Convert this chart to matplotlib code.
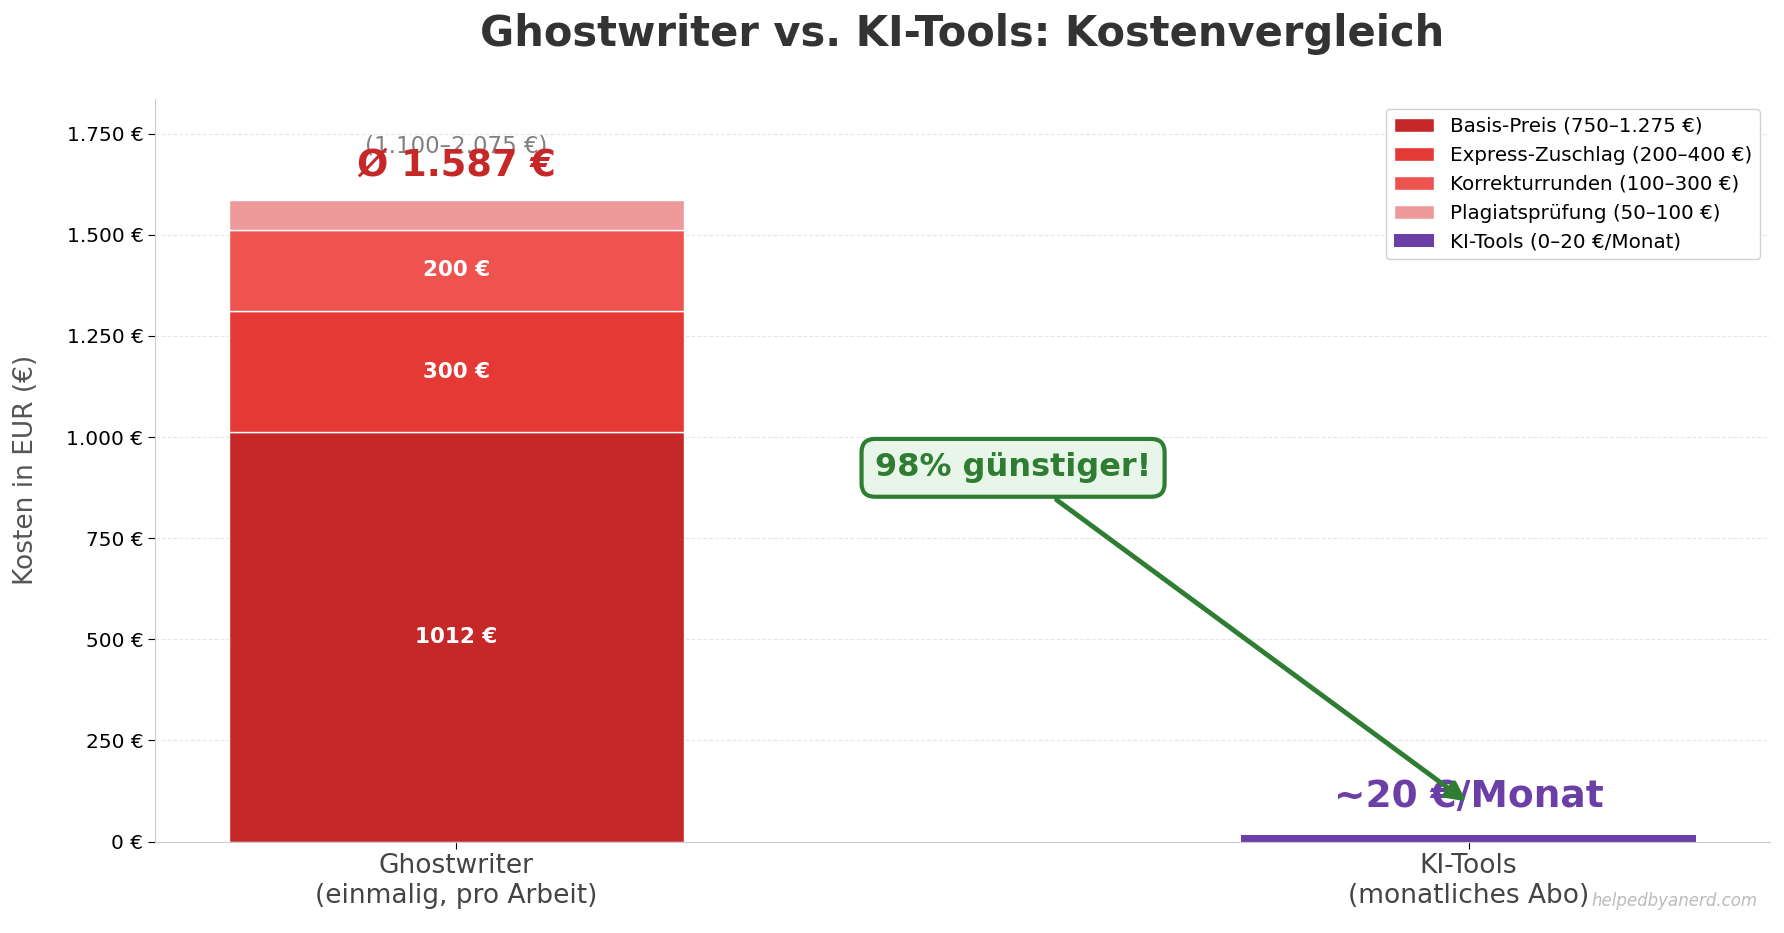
import numpy as np
import matplotlib.pyplot as plt
from matplotlib.ticker import FuncFormatter

# daten
kategorien = ["Ghostwriter\n(einmalig, pro Arbeit)", "KI-Tools\n(monatliches Abo)"]
segmente = ["Basis-Preis (750–1.275 €)", "Express-Zuschlag (200–400 €)",
            "Korrekturrunden (100–300 €)", "Plagiatsprüfung (50–100 €)"]
werte_gw = [1012, 300, 200, 75]
farben_gw = ["#c62828", "#e53935", "#ef5350", "#ef9a9a"]
ki_wert = 15
ki_label = "KI-Tools (0–20 €/Monat)"
ki_farbe = "#6b3fa6"

fig, ax = plt.subplots(figsize=(17.84, 9.33), dpi=100)
fig.subplots_adjust(left=0.087, right=0.992, top=0.894, bottom=0.098)

x = np.arange(len(kategorien))
breite = 0.45

unten = 0
for wert, farbe, name in zip(werte_gw, farben_gw, segmente):
    ax.bar(x[0], wert, breite, bottom=unten, color=farbe, edgecolor="white", linewidth=1, label=name)
    if wert >= 150:  # nur grosse segmente beschriften
        ax.text(x[0], unten + wert / 2, f"{wert} €", ha="center", va="center",
                color="white", fontsize=15.5, fontweight="bold")
    unten += wert

ax.bar(x[1], ki_wert, breite, color=ki_farbe, label=ki_label)

gesamt = sum(werte_gw)
ax.text(x[0], gesamt + 105, "(1.100–2.075 €)", ha="center", va="bottom", fontsize=16.5, color="gray")
ax.text(x[0], gesamt + 40, "Ø 1.587 €", ha="center", va="bottom", fontsize=26.5,
        fontweight="bold", color="#c62828")
ax.text(x[1], ki_wert + 50, "~20 €/Monat", ha="center", va="bottom", fontsize=27,
        fontweight="bold", color=ki_farbe)

ax.annotate("98% günstiger!", xy=(x[1], 95), xytext=(0.55, 924),
            ha="center", va="center", fontsize=23, fontweight="bold", color="#2e7d32",
            bbox=dict(boxstyle="round,pad=0.42", facecolor="#e8f5e9", edgecolor="#2e7d32", linewidth=3),
            arrowprops=dict(arrowstyle="-|>", color="#2e7d32", lw=3.5, mutation_scale=28))

ax.set_ylim(0, gesamt * 1.157)
ax.set_xticks(x)
ax.set_xticklabels(kategorien, fontsize=19, color="#444444")
ax.yaxis.set_major_formatter(FuncFormatter(lambda v, p: f"{v:,.0f} €".replace(",", ".")))
ax.tick_params(axis="y", labelsize=14.5)
ax.tick_params(axis="both", length=5)
ax.set_ylabel("Kosten in EUR (€)", fontsize=19, color="#555555", labelpad=20)
ax.set_title("Ghostwriter vs. KI-Tools: Kostenvergleich", fontsize=30, fontweight="bold",
             color="#333333", pad=38)

ax.grid(axis="y", linestyle="--", alpha=0.3)
ax.set_axisbelow(True)
ax.spines["top"].set_visible(False)
ax.spines["right"].set_visible(False)
ax.spines["left"].set_color("#cccccc")
ax.spines["bottom"].set_color("#cccccc")

ax.legend(loc="upper right", fontsize=14.3, framealpha=0.9)

fig.text(0.985, 0.025, "helpedbyanerd.com", ha="right", va="bottom", fontsize=12,
         color="#bbbbbb", style="italic")

plt.savefig("out.png", dpi=100)
